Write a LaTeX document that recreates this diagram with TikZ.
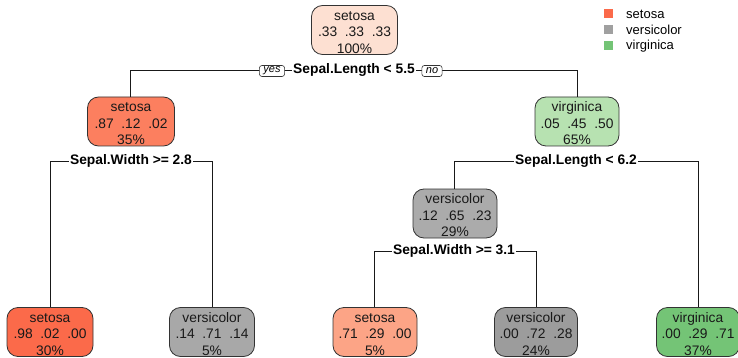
\documentclass[tikz,border=0pt]{standalone}
\usepackage{fontspec}
\setmainfont{Liberation Sans}
% strut that lowers a node's text block a little inside its box
\newcommand{\topgap}{\rule{0pt}{14pt}}
\begin{document}
\begin{tikzpicture}[x=1pt,y=-1pt,
  treenode/.style={draw=black!80, line width=0.8pt, rounded corners=11pt,
    minimum height=49pt, inner sep=0pt, align=center, text=black!90,
    font=\fontsize{13.8}{16.5}\selectfont},
  splitlabel/.style={fill=white, inner sep=1.5pt, font=\bfseries\fontsize{13.8}{15}\selectfont},
  branchtag/.style={draw=black!80, fill=white, line width=0.6pt, rounded corners=2.5pt,
    inner xsep=4pt, inner ysep=0.5pt, minimum height=11pt, font=\itshape\fontsize{11}{11}\selectfont},
  edge/.style={line width=0.7pt, draw=black!90},
  legendbox/.style={minimum size=9pt, inner sep=0pt},
  legendtext/.style={anchor=west, inner sep=0pt, font=\fontsize{13}{13}\selectfont}
]
\definecolor{rootfill}{HTML}{FDE0D2}
\definecolor{setosaA}{HTML}{FC7F5F}
\definecolor{setosaB}{HTML}{FB6A4A}
\definecolor{setosaC}{HTML}{FCA486}
\definecolor{versiA}{HTML}{ABABAB}
\definecolor{versiB}{HTML}{A8A8A8}
\definecolor{versiC}{HTML}{9C9C9C}
\definecolor{virgA}{HTML}{B7E2B1}
\definecolor{virgB}{HTML}{74C476}
\definecolor{legsetosa}{HTML}{FB6A4A}
\definecolor{legversi}{HTML}{A0A0A0}
\definecolor{legvirg}{HTML}{74C476}

\useasboundingbox (0,0) rectangle (738,358);

% split lines (drawn first, labels sit on top)
\coordinate (s1l) at (130,70);  \coordinate (s1r) at (577,70);
\coordinate (s2l) at (50,161);  \coordinate (s2r) at (212,161);
\coordinate (s3l) at (454,161); \coordinate (s3r) at (698,161);
\coordinate (s4l) at (374,251); \coordinate (s4r) at (536,251);

% tree nodes
\node[treenode, fill=rootfill, minimum width=86pt] (root) at (354.5,30) {\topgap setosa\\.33\ \ .33\ \ .33\\100\%};
\node[treenode, fill=setosaA, minimum width=87pt] (n2) at (131,121.5) {\topgap setosa\\.87\ \ .12\ \ .02\\35\%};
\node[treenode, fill=virgA, minimum width=84pt] (n3) at (577,121.5) {\topgap virginica\\.05\ \ .45\ \ .50\\65\%};
\node[treenode, fill=versiA, minimum width=84pt] (n6) at (455,213.5) {\topgap versicolor\\.12\ \ .65\ \ .23\\29\%};
\node[treenode, fill=setosaB, minimum width=86pt] (l1) at (50,332) {\topgap setosa\\.98\ \ .02\ \ .00\\30\%};
\node[treenode, fill=versiB, minimum width=85pt] (l2) at (212,332) {\topgap versicolor\\.14\ \ .71\ \ .14\\5\%};
\node[treenode, fill=setosaC, minimum width=84pt] (l3) at (375,332) {\topgap setosa\\.71\ \ .29\ \ .00\\5\%};
\node[treenode, fill=versiC, minimum width=83pt] (l4) at (536,332) {\topgap versicolor\\.00\ \ .72\ \ .28\\24\%};
\node[treenode, fill=virgB, minimum width=83pt] (l5) at (698,332) {\topgap virginica\\.00\ \ .29\ \ .71\\37\%};

% connectors
\draw[edge] (n2.north -| s1l) |- (s1r) -- (n3.north -| s1r);
\draw[edge] (l1.north -| s2l) |- (s2r) -- (l2.north -| s2r);
\draw[edge] (n6.north -| s3l) |- (s3r) -- (l5.north -| s3r);
\draw[edge] (l3.north -| s4l) |- (s4r) -- (l4.north -| s4r);

% split labels
\node[splitlabel] (q1) at (354,70) {Sepal.Length < 5.5};
\node[splitlabel] (q2) at (131,161) {Sepal.Width >= 2.8};
\node[splitlabel] (q3) at (576,161) {Sepal.Length < 6.2};
\node[splitlabel] (q4) at (454,251) {Sepal.Width >= 3.1};
\node[branchtag] (yes) at (272,71) {yes};
\node[branchtag] (no) at (432,71) {no};

% legend
\node[legendbox, fill=legsetosa] (k1) at (608.5,14) {};
\node[legendbox, fill=legversi] (k2) at (608.5,30) {};
\node[legendbox, fill=legvirg] (k3) at (608.5,46) {};
\node[legendtext] (t1) at (626,14) {setosa};
\node[legendtext] (t2) at (626,30) {versicolor};
\node[legendtext] (t3) at (626,46) {virginica};
\end{tikzpicture}
\end{document}
